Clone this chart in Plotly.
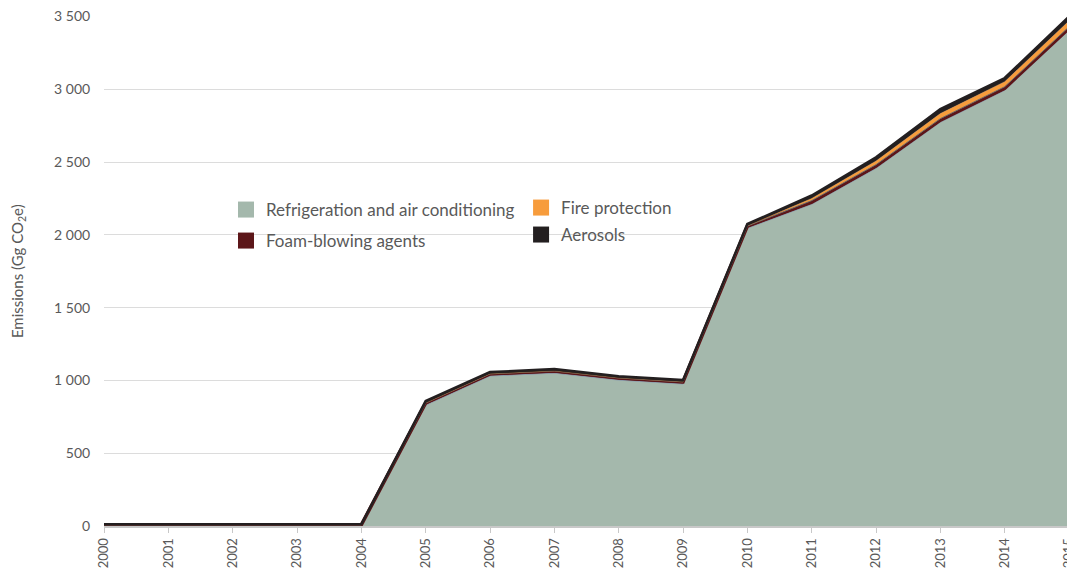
import plotly.graph_objects as go

years = [str(y) for y in range(2000, 2016)]
refrigeration = [0, 0, 0, 0, 0, 830, 1030, 1050, 1002, 975, 2045, 2210, 2457, 2773, 2992, 3404]
foam = [8, 8, 8, 8, 8, 15, 15, 15, 15, 15, 15, 15, 15, 15, 15, 15]
solvents = [0, 0, 0, 0, 0, 0, 0, 0, 0, 0, 0, 10, 10, 10, 10, 10]
fire = [0, 0, 0, 0, 0, 0, 0, 0, 0, 0, 2, 15, 25, 35, 35, 40]
aerosols = [4, 4, 4, 4, 4, 13, 12, 13, 12, 12, 12, 20, 25, 30, 25, 30]
y_ticks = [0, 500, 1000, 1500, 2000, 2500, 3000, 3500]

C_REF, C_FOAM, C_SOLV, C_FIRE, C_AER = "#a4b8ac", "#5c1619", "#4a90c8", "#f79c3c", "#231f20"

fig = go.Figure()
fig.add_trace(go.Scatter(x=years, y=refrigeration, name="Refrigeration and air conditioning",
                         stackgroup="a", mode="lines", fillcolor=C_REF,
                         line=dict(color="#8a9fb0", width=1), showlegend=False))
fig.add_trace(go.Scatter(x=years, y=foam, name="Foam-blowing agents",
                         stackgroup="a", mode="lines", fillcolor=C_FOAM,
                         line=dict(color=C_FOAM, width=3.5), showlegend=False))
fig.add_trace(go.Scatter(x=years, y=solvents, name="Solvents",
                         stackgroup="a", mode="lines", fillcolor=C_SOLV,
                         line=dict(color="#6b6b6b", width=1), showlegend=False))
fig.add_trace(go.Scatter(x=years, y=fire, name="Fire protection",
                         stackgroup="a", mode="lines", fillcolor=C_FIRE,
                         line=dict(color=C_FIRE, width=0.3), showlegend=False))
fig.add_trace(go.Scatter(x=years, y=aerosols, name="Aerosols",
                         stackgroup="a", mode="lines", fillcolor=C_AER,
                         line=dict(color=C_AER, width=2.5), showlegend=False))

# legend entries (square swatches), one legend per entry for exact placement
legend_items = [("Refrigeration and air conditioning", C_REF, "legend", 0.1264, 0.6196),
                ("Foam-blowing agents", C_FOAM, "legend2", 0.1264, 0.5588),
                ("Fire protection", C_FIRE, "legend3", 0.4322, 0.6235),
                ("Aerosols", C_AER, "legend4", 0.4322, 0.5706)]
legend_layout = {}
for name, color, lg, lx, ly in legend_items:
    fig.add_trace(go.Scatter(x=[None], y=[None], mode="markers", name=name,
                             marker=dict(symbol="square", size=21, color=color),
                             legend=lg, showlegend=True))
    legend_layout[lg] = dict(x=lx, y=ly, xanchor="left", yanchor="middle",
                             bgcolor="rgba(0,0,0,0)", itemsizing="trace",
                             font=dict(size=17, color="#595959"))

font_family = "Lato, 'Open Sans', sans-serif"
fig.update_layout(
    width=1067, height=561,
    margin=dict(l=96, r=6, t=8, b=43),
    paper_bgcolor="white", plot_bgcolor="white",
    separators=". ",
    font=dict(family=font_family, size=13, color="#595959"),
    xaxis=dict(type="category", range=[0, 15], showgrid=False, tickangle=-90,
               ticks="outside", ticklen=5, tickcolor="#c8c8c8", automargin=False,
               ticklabeloverflow="allow",
               showline=True, linecolor="#c8c8c8", linewidth=2,
               tickfont=dict(size=13, color="#595959")),
    yaxis=dict(range=[0, 3503], tickvals=y_ticks, tickformat=",d", automargin=False,
               ticklabeloverflow="allow",
               showgrid=True, gridcolor="#dcdcdc", gridwidth=1, zeroline=False,
               ticks="outside", ticklen=10, tickcolor="rgba(0,0,0,0)",
               tickfont=dict(size=14, color="#595959")),
    annotations=[dict(text="Emissions (Gg CO<sub>2</sub>e)", xref="paper", yref="paper",
                      x=-0.089, y=0.5, xanchor="center", yanchor="middle", textangle=-90,
                      showarrow=False, font=dict(size=15, color="#595959"))],
    **legend_layout,
)
fig.write_html("out.html")
